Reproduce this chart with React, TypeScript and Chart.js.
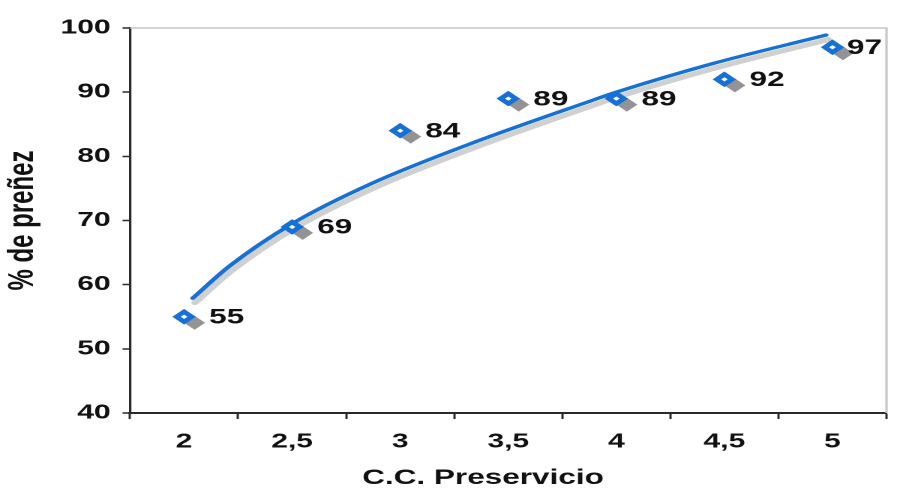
import React, { useEffect, useRef } from 'react';
import { Chart, registerables } from 'chart.js';

Chart.register(...registerables);

// ---- data ----
const categories = ['2', '2,5', '3', '3,5', '4', '4,5', '5'];
const pregnancy = [55, 69, 84, 89, 89, 92, 97];
// trend line (x in C.C. units, y in %)
const trendX = [2.04, 2.21, 2.5, 2.87, 3.32, 3.87, 4.0, 4.44, 4.97];
const trendY = [57.9, 62.9, 69.5, 75.8, 81.9, 88.5, 90.0, 94.4, 98.9];
const yMin = 40;
const yMax = 100;
const yStep = 10;
const xTitle = 'C.C. Preservicio';
const yTitle = '% de preñez';

// ---- style ----
const FONT = '"Liberation Sans", Arial, Helvetica, sans-serif';
const BLUE = '#1670d6';
const DARK = '#2a2a2a';
const TEXT = '#111111';
const INNER_W = 600; // drawn narrower, then stretched horizontally like the reference
const INNER_H = 489;

const shiftPlugin = {
  id: 'shadowShift',
  beforeDatasetDraw(chart: any, args: any) {
    const ds: any = chart.data.datasets[args.index];
    if (ds.shadowShift) {
      chart.ctx.save();
      chart.ctx.translate(ds.shadowShift[0], ds.shadowShift[1]);
    }
  },
  afterDatasetDraw(chart: any, args: any) {
    const ds: any = chart.data.datasets[args.index];
    if (ds.shadowShift) chart.ctx.restore();
  },
};

const decorPlugin = {
  id: 'decor',
  beforeDatasetsDraw(chart: any) {
    const { ctx, chartArea } = chart;
    ctx.save();
    ctx.strokeStyle = '#c6c6c6';
    ctx.lineWidth = 1.6;
    ctx.beginPath();
    ctx.moveTo(chartArea.left, chartArea.top);
    ctx.lineTo(chartArea.right, chartArea.top);
    ctx.lineTo(chartArea.right, chartArea.bottom);
    ctx.stroke();
    ctx.restore();
  },
  afterDatasetsDraw(chart: any) {
    const { ctx, chartArea } = chart;
    const meta = chart.getDatasetMeta(0);
    ctx.save();
    ctx.font = `bold 21px ${FONT}`;
    ctx.fillStyle = TEXT;
    ctx.textBaseline = 'middle';
    ctx.textAlign = 'left';
    meta.data.forEach((pt: any, i: number) => {
      const txt = String(pregnancy[i]);
      const w = ctx.measureText(txt).width;
      let x = pt.x + 16.7;
      if (x + w > chartArea.right - 3) x = chartArea.right - 3 - w;
      ctx.fillText(txt, x, pt.y + 1);
    });
    // x axis title
    ctx.font = `bold 21px ${FONT}`;
    ctx.textAlign = 'center';
    ctx.fillText(xTitle, 322, 478);
    ctx.restore();
  },
};

export default function App() {
  const ref = useRef<HTMLCanvasElement>(null);

  useEffect(() => {
    if (!ref.current) return;
    const trendData = trendX.map((x, i) => ({ x, y: trendY[i] }));
    const chart = new Chart(ref.current, {
      type: 'line',
      data: {
        labels: categories,
        datasets: [
          {
            label: 'markers',
            data: pregnancy,
            xAxisID: 'x',
            yAxisID: 'y',
            showLine: false,
            pointStyle: 'rectRot',
            pointRadius: 5,
            pointBorderWidth: 4,
            pointBorderColor: BLUE,
            pointBackgroundColor: '#ffffff',
            order: 0,
            clip: false,
          } as any,
          {
            label: 'marker shadow',
            data: pregnancy,
            xAxisID: 'x',
            yAxisID: 'y',
            showLine: false,
            pointStyle: 'rectRot',
            pointRadius: 7,
            pointBorderWidth: 0,
            pointBackgroundColor: '#939393',
            pointBorderColor: '#939393',
            shadowShift: [7, 6],
            order: 1,
            clip: false,
          } as any,
          {
            label: 'trend',
            data: trendData,
            xAxisID: 'xl',
            yAxisID: 'y',
            borderColor: BLUE,
            borderWidth: 3.3,
            borderCapStyle: 'round',
            pointRadius: 0,
            tension: 0.4,
            cubicInterpolationMode: 'monotone',
            order: 2,
            clip: false,
          } as any,
          {
            label: 'trend shadow',
            data: trendData,
            xAxisID: 'xl',
            yAxisID: 'y',
            borderColor: '#d0d0d0',
            borderWidth: 5,
            borderCapStyle: 'round',
            pointRadius: 0,
            tension: 0.4,
            cubicInterpolationMode: 'monotone',
            shadowShift: [1.5, 4.5],
            order: 3,
            clip: false,
          } as any,
        ],
      },
      options: {
        animation: false,
        responsive: false,
        devicePixelRatio: 2,
        layout: { padding: { left: 0, right: 5, top: 28, bottom: 0 } },
        plugins: {
          legend: { display: false },
          tooltip: { enabled: false },
        },
        scales: {
          x: {
            type: 'category',
            labels: categories,
            offset: true,
            position: 'bottom',
            grid: {
              offset: true,
              drawOnChartArea: false,
              drawTicks: true,
              tickLength: 6,
              tickColor: DARK,
              tickWidth: 1.5,
            },
            border: { color: DARK, width: 2 },
            ticks: {
              color: TEXT,
              font: { family: FONT, size: 20, weight: 'bold' },
              padding: 11,
              maxRotation: 0,
              autoSkip: false,
            },
            afterFit(scale: any) {
              scale.height = 76;
            },
          },
          xl: {
            type: 'linear',
            display: false,
            position: 'bottom',
            min: 1.75,
            max: 5.25,
          },
          y: {
            type: 'linear',
            min: yMin,
            max: yMax,
            ticks: {
              stepSize: yStep,
              color: TEXT,
              font: { family: FONT, size: 20, weight: 'bold' },
              padding: 8,
            },
            grid: {
              drawOnChartArea: false,
              drawTicks: true,
              tickLength: 5,
              tickColor: DARK,
              tickWidth: 1.5,
            },
            border: { color: DARK, width: 1.6 },
            title: {
              display: true,
              text: yTitle,
              color: TEXT,
              font: { family: FONT, size: 24, weight: 'bold' },
              padding: { top: 1, bottom: 0 },
            },
            afterFit(scale: any) {
              scale.width = 86.7;
            },
          },
        },
      } as any,
      plugins: [shiftPlugin, decorPlugin],
    });
    return () => chart.destroy();
  }, []);

  return (
    <div
      style={{
        position: 'fixed',
        left: 0,
        top: 0,
        width: 900,
        height: 489,
        background: '#ffffff',
      }}
    >
      <canvas
        ref={ref}
        width={INNER_W}
        height={INNER_H}
        style={{ width: '900px', height: '489px', display: 'block' }}
      />
    </div>
  );
}
